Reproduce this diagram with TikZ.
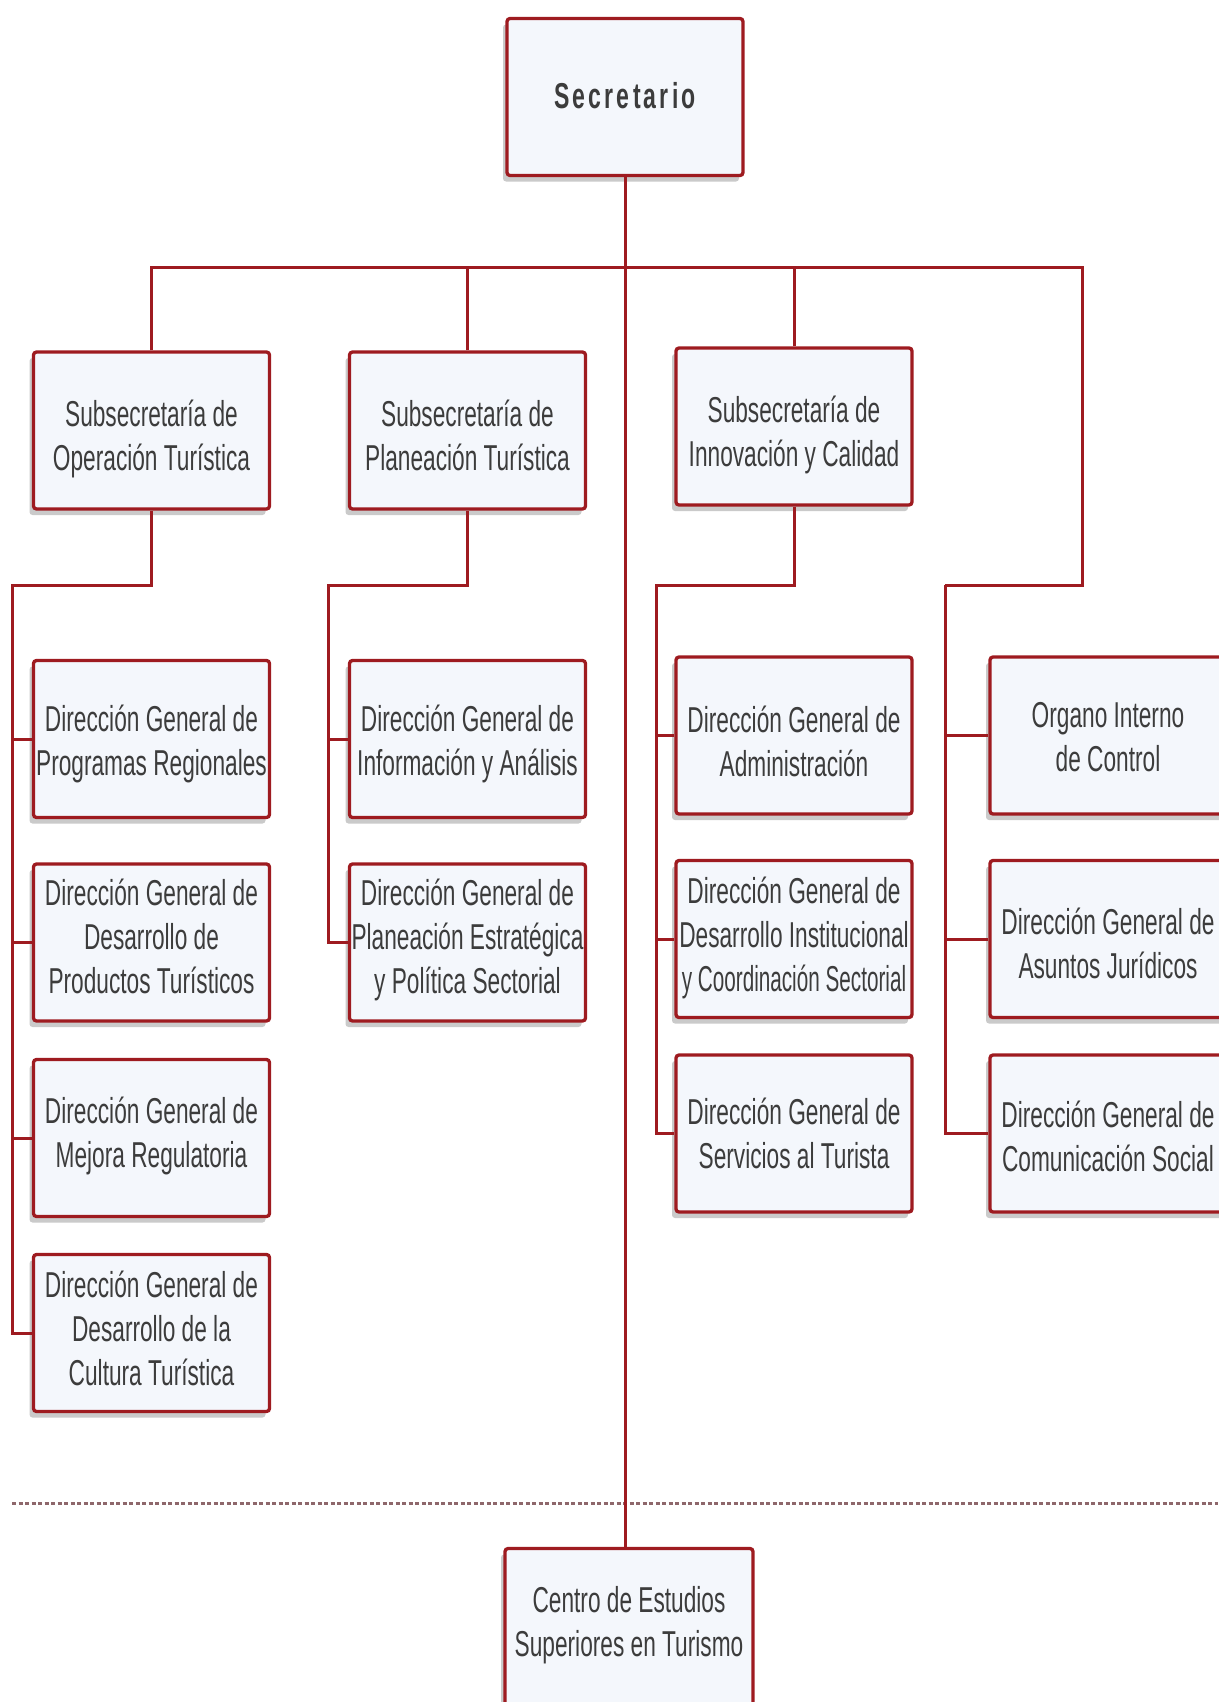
\documentclass[tikz,border=0pt]{standalone}
\usepackage{fontspec}
\setmainfont{Liberation Sans}[FakeStretch=0.63]
\newfontfamily\narrowfont{Liberation Sans}[FakeStretch=0.575]
\newfontfamily\secfont{Liberation Sans}[FakeStretch=0.64,LetterSpace=9]
\usetikzlibrary{shadows}
\definecolor{lred}{HTML}{9E1B20}
\definecolor{bfill}{HTML}{F4F7FC}
\definecolor{tgray}{HTML}{3C3C3C}
\definecolor{dashc}{HTML}{8E676B}
\newcommand{\boxtxt}[2][0pt]{\raisebox{#1}[\height][\depth]{\begin{tabular}{@{}c@{}}#2\end{tabular}}}
\tikzset{
  orgbox/.style={draw=lred, line width=3.3pt, fill=bfill, rounded corners=3pt,
    minimum width=236pt, minimum height=157pt, inner sep=0pt, align=center,
    text=tgray, font=\fontsize{36}{44}\selectfont,
    drop shadow={shadow xshift=-4pt, shadow yshift=-6pt, opacity=0.35, fill=black!60}},
  conn/.style={draw=lred, line width=3pt}
}
\begin{document}
\begin{tikzpicture}[x=1pt,y=-1pt]
\useasboundingbox (0,0) rectangle (1218,1702);
% junction coordinates
\coordinate (bar) at (625,267);
\coordinate (rbar) at (1082,267);
\coordinate (j1) at (12,585);
\coordinate (j2) at (328,585);
\coordinate (j3) at (656,585);
\coordinate (j4) at (945,585);

% nodes
\node[orgbox] (sec) at (625,97) {\boxtxt[-3pt]{\secfont\bfseries Secretario}};
\node[orgbox] (op) at (151.5,430.5) {\boxtxt[-9pt]{Subsecretaría de\\Operación Turística}};
\node[orgbox] (pl) at (467.5,430.5) {\boxtxt[-9pt]{Subsecretaría de\\Planeación Turística}};
\node[orgbox] (inn) at (794,426.5) {\boxtxt[-9pt]{Subsecretaría de\\Innovación y Calidad}};

\node[orgbox] (a1) at (151.5,739) {\boxtxt[-6pt]{Dirección General de\\Programas Regionales}};
\node[orgbox] (a2) at (151.5,942.5) {\boxtxt[2pt]{Dirección General de\\Desarrollo de\\Productos Turísticos}};
\node[orgbox] (a3) at (151.5,1138) {\boxtxt[1pt]{Dirección General de\\Mejora Regulatoria}};
\node[orgbox] (a4) at (151.5,1333) {\boxtxt{Dirección General de\\Desarrollo de la\\Cultura Turística}};

\node[orgbox] (b1) at (467.5,739) {\boxtxt[-6pt]{Dirección General de\\Información y Análisis}};
\node[orgbox] (b2) at (467.5,942.5) {\boxtxt[2pt]{Dirección General de\\Planeación Estratégica\\y Política Sectorial}};

\node[orgbox] (c1) at (794,735.5) {\boxtxt[-10pt]{Dirección General de\\Administración}};
\node[orgbox] (c2) at (794,939) {\boxtxt{Dirección General de\\Desarrollo Institucional\\{\narrowfont y Coordinación Sectorial}}};
\node[orgbox] (c3) at (794,1133.5) {\boxtxt[-4pt]{Dirección General de\\Servicios al Turista}};

\node[orgbox] (d1) at (1108,735.5) {\boxtxt[-5.5pt]{Organo Interno\\de Control}};
\node[orgbox] (d2) at (1108,939) {\boxtxt[-9pt]{Dirección General de\\Asuntos Jurídicos}};
\node[orgbox] (d3) at (1108,1133.5) {\boxtxt[-7pt]{Dirección General de\\Comunicación Social}};

\node[orgbox, minimum width=248pt] (cen) at (629,1627) {\boxtxt[1.5pt]{Centro de Estudios\\Superiores en Turismo}};

% dashed separator
\draw[dashc, line width=3pt, dash pattern=on 4pt off 2.5pt] (12,1503) -- (1218,1503);

% connectors
\draw[conn] (sec.south) -- (sec.south |- cen.north);
\draw[conn] (op.north) |- (rbar) |- (j4);
\draw[conn] (pl.north) -- (pl.north |- bar);
\draw[conn] (inn.north) -- (inn.north |- bar);

\draw[conn] (op.south) |- (j1) |- (a4.west);
\draw[conn] (j1 |- a1.west) -- (a1.west);
\draw[conn] (j1 |- a2.west) -- (a2.west);
\draw[conn] (j1 |- a3.west) -- (a3.west);

\draw[conn] (pl.south) |- (j2) |- (b2.west);
\draw[conn] (j2 |- b1.west) -- (b1.west);

\draw[conn] (inn.south) |- (j3) |- (c3.west);
\draw[conn] (j3 |- c1.west) -- (c1.west);
\draw[conn] (j3 |- c2.west) -- (c2.west);

\draw[conn] (j4) |- (d3.west);
\draw[conn] (j4 |- d1.west) -- (d1.west);
\draw[conn] (j4 |- d2.west) -- (d2.west);
\end{tikzpicture}
\end{document}
